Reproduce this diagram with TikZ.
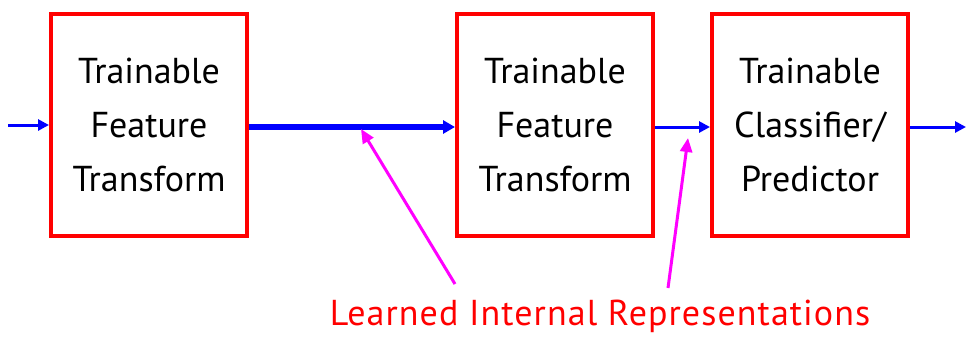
\documentclass[tikz,border=0pt]{standalone}
\usepackage{fontspec}
\setmainfont{PT Sans}
\newfontfamily\lblfont[LetterSpace=3]{PT Sans}
\usetikzlibrary{arrows.meta}
\definecolor{boxred}{RGB}{255,0,0}
\definecolor{arrblue}{RGB}{0,0,255}
\definecolor{mag}{RGB}{255,0,255}
\begin{document}
\begin{tikzpicture}[x=1pt,y=-1pt,
  blockbox/.style={draw=boxred,line width=4pt,minimum width=196pt,minimum height=222pt,inner sep=0pt,align=center,
     font=\fontsize{36}{54}\selectfont,anchor=north west},
  thinarr/.style={draw=arrblue,line width=3pt,-{Triangle[length=11pt,width=11pt]}},
  thickarr/.style={draw=arrblue,line width=5.5pt,-{Triangle[length=12pt,width=13pt]}},
  magarr/.style={draw=mag,line width=3pt,-{Triangle[length=14pt,width=12pt]}}]
\useasboundingbox (0,0) rectangle (966,338);
\node[blockbox] (b1) at (49,12) {Trainable\\Feature\\Transform};
\node[blockbox] (b2) at (455,12) {Trainable\\Feature\\Transform};
\node[blockbox] (b3) at (710,12) {Trainable\\Classifier/\\Predictor};
\coordinate (in) at (8,125);
\coordinate (out) at (966,127);
\draw[thinarr] (in) -- (b1.west |- in);
\draw[thickarr] (b1.east |- 0,127) -- (b2.west |- 0,127);
\draw[thinarr] (b2.east |- 0,127) -- (b3.west |- 0,127);
\draw[thinarr] (b3.east |- 0,127) -- (out);
\node[text=boxred,font=\lblfont\fontsize{36}{40}\selectfont] (lbl) at (600,316) {Learned Internal Representations};
\coordinate (t1) at (361,129);
\coordinate (t2) at (688,138);
\draw[magarr] (455,284) -- (t1);
\draw[magarr] (668,288) -- (t2);
\end{tikzpicture}
\end{document}
